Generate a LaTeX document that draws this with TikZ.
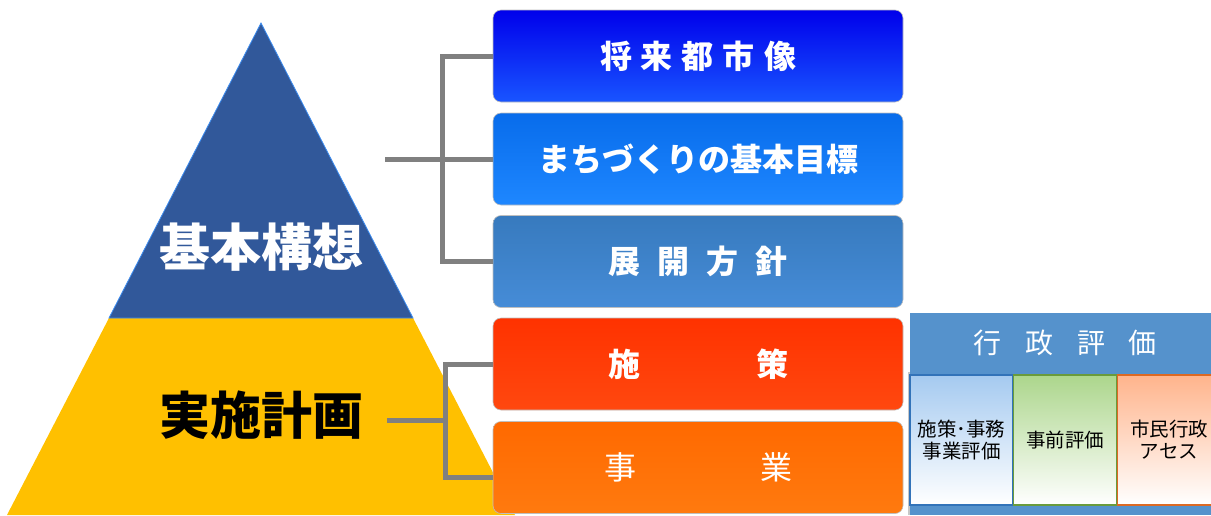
\documentclass[tikz,border=0pt]{standalone}
\usepackage{fontspec}
\setmainfont{Noto Sans CJK JP}
\definecolor{pblue}{HTML}{31589A}
\definecolor{pedge}{HTML}{3C8CF0}
\definecolor{pyel}{HTML}{FFC000}
\definecolor{conngray}{HTML}{808080}
\definecolor{panelblue}{HTML}{5592CC}
\begin{document}
\begin{tikzpicture}[x=1pt,y=-1pt,
  box/.style={rounded corners=8pt, minimum width=410pt, minimum height=92pt,
    draw=black!25, line width=0.6pt, text=white, inner sep=0pt,
    font=\fontsize{32}{36}\selectfont\bfseries},
  big/.style={font=\fontsize{51}{54}\selectfont\bfseries, inner sep=0pt},
  conn/.style={draw=conngray, line width=5pt},
  sub/.style={minimum width=103pt, minimum height=130pt, inner sep=0pt,
    line width=1.3pt, bottom color=white, align=center,
    font=\fontsize{19.5}{22}\selectfont}]
\useasboundingbox (0,0) rectangle (1211,515);
\clip (0,0) rectangle (1211,515);
% pyramid
\fill[pyel] (109,318) -- (413,318) -- (515,515) -- (7,515) -- cycle;
\filldraw[fill=pblue, draw=pedge, line width=0.8pt] (261,23) -- (109,318) -- (413,318) -- cycle;
\node[big, text=white] (kihon) at (261,247) {基本構想};
\node[big, text=black] (jisshi) at (261,415) {実施計画};
% boxes
\node[box, top color={rgb,255:red,0;green,0;blue,235}, bottom color={rgb,255:red,25;green,85;blue,255}] (b1) at (698,56)
  {将\hspace{9pt}来\hspace{9pt}都\hspace{9pt}市\hspace{9pt}像};
\node[box, top color={rgb,255:red,8;green,108;blue,235}, bottom color={rgb,255:red,30;green,135;blue,255}] (b2) at (698,159)
  {まちづくりの基本目標};
\node[box, top color={rgb,255:red,55;green,122;blue,190}, bottom color={rgb,255:red,70;green,140;blue,215}] (b3) at (698,261.5)
  {展\hspace{17pt}開\hspace{17pt}方\hspace{17pt}針};
\node[box, top color={rgb,255:red,255;green,50;blue,0}, bottom color={rgb,255:red,255;green,72;blue,15}] (b4) at (698,364)
  {施\hspace{116pt}策};
\node[box, top color={rgb,255:red,255;green,105;blue,0}, bottom color={rgb,255:red,255;green,122;blue,15},
  font=\fontsize{32}{36}\selectfont] (b5) at (698,467.5)
  {事\hspace{124pt}業};
% connectors
\coordinate (t1) at (385,159);
\coordinate (j1) at (442,159);
\coordinate (t2) at (387,420);
\coordinate (j2) at (445,420);
\draw[conn] (b1.west) -| (j1) |- (b3.west);
\draw[conn] (t1) -- (b2.west);
\draw[conn] (b4.west) -| (j2) |- ([yshift=-10pt]b5.west);
\draw[conn] (t2) -- (j2);
% evaluation panel
\fill[black!22] (907.5,372) rectangle (910,515);
\fill[panelblue] (910,313) rectangle (1215,515);
\node[text=white, font=\fontsize{28}{30}\selectfont, inner sep=0pt] (gyosei) at (1065,343)
  {行\hspace{24pt}政\hspace{24pt}評\hspace{24pt}価};
\node[sub, draw={rgb,255:red,50;green,115;blue,185}, top color={rgb,255:red,165;green,202;blue,240}] (ea) at (961.5,440)
  {施策･事務\\事業評価};
\node[sub, draw={rgb,255:red,105;green,155;blue,60}, top color={rgb,255:red,172;green,214;blue,140}] (eb) at (1065,440)
  {事前評価};
\node[sub, draw={rgb,255:red,220;green,105;blue,35}, top color={rgb,255:red,255;green,180;blue,140}] (ec) at (1169,440)
  {市民行政\\アセス};
\end{tikzpicture}
\end{document}
